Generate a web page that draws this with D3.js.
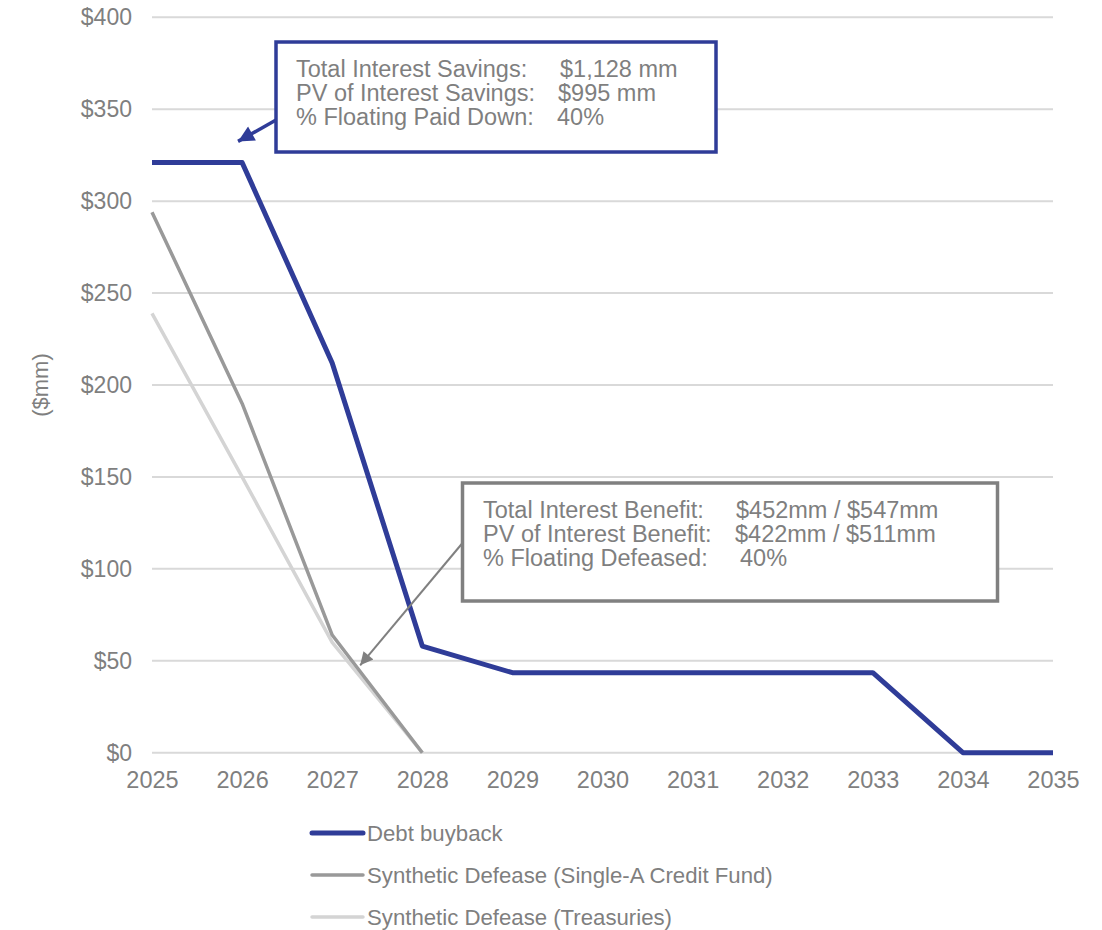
<!DOCTYPE html>
<html>
<head>
<meta charset="utf-8">
<script src="https://cdn.jsdelivr.net/npm/d3@7"></script>
<style>
  html, body { margin: 0; padding: 0; background: #fff; }
  svg text { font-family: "Liberation Sans", Arial, sans-serif; fill: #7f7f7f; }
</style>
</head>
<body>
<svg id="chart" width="1102" height="930"></svg>
<script>
// Annual interest cost by strategy ($mm)
const years = [2025, 2026, 2027, 2028, 2029, 2030, 2031, 2032, 2033, 2034, 2035];
const debtBuyback = [321, 321, 212, 58, 43.5, 43.5, 43.5, 43.5, 43.5, 0, 0];
const singleAYears = [2025, 2026, 2027, 2028];
const singleA = [294, 190, 64, 0];
const treasuryYears = [2025, 2026, 2027, 2028];
const treasuries = [239, 150, 60, 0];
const yTicks = [0, 50, 100, 150, 200, 250, 300, 350, 400];

const seriesNames = [
  "Debt buyback",
  "Synthetic Defease (Single-A Credit Fund)",
  "Synthetic Defease (Treasuries)"
];

const buybackNotes = [
  ["Total Interest Savings:", "$1,128 mm"],
  ["PV of Interest Savings:", "$995 mm"],
  ["% Floating Paid Down:", "40%"]
];
const defeaseNotes = [
  ["Total Interest Benefit:", "$452mm / $547mm"],
  ["PV of Interest Benefit:", "$422mm / $511mm"],
  ["% Floating Defeased:", "40%"]
];

const BLUE = "#2f3c98";
const MID_GREY = "#999999";
const LIGHT_GREY = "#d4d4d4";

const svg = d3.select("#chart");
const x = d3.scaleLinear().domain([2025, 2035]).range([152, 1053]);
const y = d3.scaleLinear().domain([0, 400]).range([752.7, 17.3]);

// Horizontal gridlines
svg.append("g")
  .selectAll("line")
  .data(yTicks)
  .join("line")
  .attr("x1", x(2025)).attr("x2", x(2035))
  .attr("y1", d => y(d)).attr("y2", d => y(d))
  .attr("stroke", "#d9d9d9").attr("stroke-width", 2);

// Y axis labels
const yAxis = svg.append("g")
  .attr("transform", `translate(${x(2025) - 20},0)`)
  .call(d3.axisLeft(y).tickValues(yTicks).tickSize(0).tickPadding(0).tickFormat(d => "$" + d));
yAxis.select(".domain").remove();
yAxis.selectAll("text")
  .attr("font-size", 23)
  .style("font-family", "'Liberation Sans', Arial, sans-serif")
  .attr("fill", "#7f7f7f");

// X axis labels
const xAxis = svg.append("g")
  .attr("transform", `translate(0,${y(0) + 18})`)
  .call(d3.axisBottom(x).tickValues(years).tickSize(0).tickPadding(0).tickFormat(d3.format("d")));
xAxis.select(".domain").remove();
xAxis.selectAll("text")
  .attr("font-size", 23.5)
  .attr("dy", "0.75em")
  .style("font-family", "'Liberation Sans', Arial, sans-serif")
  .attr("fill", "#7f7f7f");

// Y axis title
svg.append("text")
  .attr("transform", `translate(48,385) rotate(-90)`)
  .attr("text-anchor", "middle")
  .attr("font-size", 22)
  .text("($mm)");

const line = d3.line().x(d => x(d[0])).y(d => y(d[1]));

// Series lines (lightest underneath)
svg.append("path")
  .datum(d3.zip(treasuryYears, treasuries))
  .attr("d", line)
  .attr("fill", "none").attr("stroke", LIGHT_GREY).attr("stroke-width", 3.5)
  .attr("stroke-linejoin", "round");

svg.append("path")
  .datum(d3.zip(singleAYears, singleA))
  .attr("d", line)
  .attr("fill", "none").attr("stroke", MID_GREY).attr("stroke-width", 3.5)
  .attr("stroke-linejoin", "round");

svg.append("path")
  .datum(d3.zip(years, debtBuyback))
  .attr("d", line)
  .attr("fill", "none").attr("stroke", BLUE).attr("stroke-width", 5)
  .attr("stroke-linejoin", "round");

// Arrowhead markers
const defs = svg.append("defs");
function marker(id, color, w, h) {
  defs.append("marker")
    .attr("id", id)
    .attr("viewBox", "0 0 10 10")
    .attr("refX", 10).attr("refY", 5)
    .attr("markerUnits", "userSpaceOnUse")
    .attr("markerWidth", w).attr("markerHeight", h)
    .attr("orient", "auto")
    .append("path")
    .attr("d", "M0,0 L10,5 L0,10 Z")
    .attr("fill", color);
}
marker("arrowBlue", BLUE, 20, 16);
marker("arrowGrey", "#808080", 16, 13);

// Callout boxes
function callout(box, color, strokeW, rows, labelX, valueX, firstBaseline, tipYear, tipValue, fromPt, arrowId, arrowW) {
  svg.append("line")
    .attr("x1", fromPt[0]).attr("y1", fromPt[1])
    .attr("x2", x(tipYear)).attr("y2", y(tipValue))
    .attr("stroke", color).attr("stroke-width", arrowW)
    .attr("marker-end", `url(#${arrowId})`);
  svg.append("rect")
    .attr("x", box[0]).attr("y", box[1])
    .attr("width", box[2]).attr("height", box[3])
    .attr("fill", "#fff").attr("stroke", color).attr("stroke-width", strokeW);
  const g = svg.append("g");
  rows.forEach((r, i) => {
    g.append("text").attr("x", labelX).attr("y", firstBaseline + i * 24)
      .attr("font-size", 23.5).text(r[0]);
    g.append("text").attr("x", valueX[i]).attr("y", firstBaseline + i * 24)
      .attr("font-size", 23.5).text(r[1]);
  });
}

callout([276, 42, 440, 110], BLUE, 3.5, buybackNotes, 296, [560, 558, 557], 77,
  2025.955, 332.5, [276, 120], "arrowBlue", 3.5);

callout([462.5, 483, 535, 118], "#808080", 3.5, defeaseNotes, 483, [736, 735, 740], 518,
  2027.31, 47.5, [462.5, 543], "arrowGrey", 2);

// Legend
const legendData = [
  { name: seriesNames[0], color: BLUE, w: 5 },
  { name: seriesNames[1], color: MID_GREY, w: 3.5 },
  { name: seriesNames[2], color: LIGHT_GREY, w: 3.5 }
];
const legend = svg.append("g")
  .selectAll("g")
  .data(legendData)
  .join("g")
  .attr("transform", (d, i) => `translate(0,${833 + i * 42})`);
legend.append("line")
  .attr("x1", 312).attr("x2", 363)
  .attr("stroke", d => d.color).attr("stroke-width", d => d.w)
  .attr("stroke-linecap", "round");
legend.append("text")
  .attr("x", 367).attr("dy", "0.35em")
  .attr("font-size", 22.2)
  .text(d => d.name);
</script>
</body>
</html>
